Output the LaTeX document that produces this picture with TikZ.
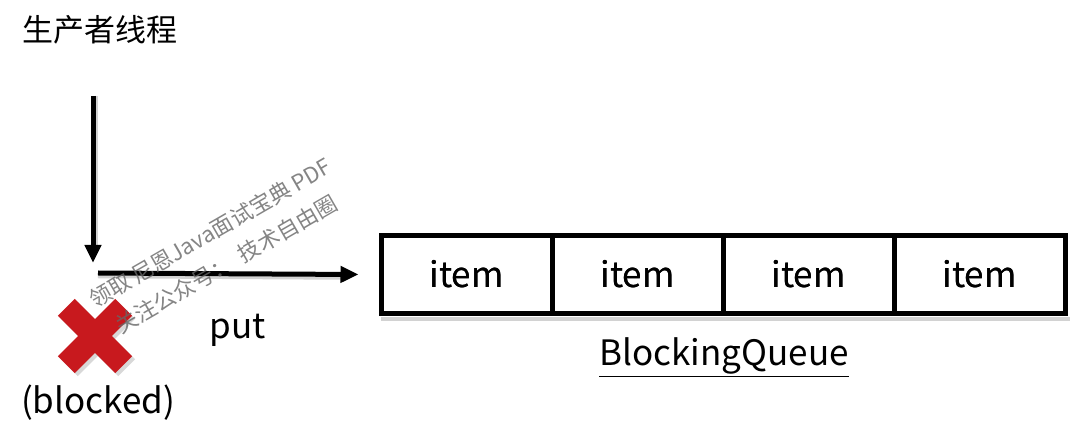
\documentclass[tikz,border=0pt]{standalone}
\usepackage{fontspec}
\setmainfont{Noto Sans CJK SC}
\usetikzlibrary{arrows.meta}
\definecolor{xred}{HTML}{C8191E}
\tikzset{
  lbl/.style={font=\fontsize{35}{40}\selectfont, inner sep=0pt},
  cell/.style={draw=black, line width=5pt, minimum width=171pt, minimum height=78pt, inner sep=0pt, font=\fontsize{35}{40}\selectfont},
  arr/.style={line width=5pt, -{Triangle[length=18pt,width=16pt]}},
  shd/.style={line width=4.5pt, black!35, opacity=0.5},
  wm/.style={font=\fontsize{22}{26}\selectfont, text=black!60, opacity=0.8, rotate=30, inner sep=0pt}
}
\begin{document}
\begin{tikzpicture}[x=1pt,y=-1pt]
\useasboundingbox (0,0) rectangle (1080,446);
% title
\node[font=\fontsize{31}{36}\selectfont, inner sep=0pt, anchor=west] (title) at (22,30) {生产者线程};
% coordinates for arrows
\coordinate (vs) at (93,96);
\coordinate (ve) at (93,263);
\coordinate (hs) at (98,273);
% queue cells
\node[cell] (c1) at (466.5,274.5) {item};
\node[cell] (c2) at (637.5,274.5) {item};
\node[cell] (c3) at (808.5,274.5) {item};
\node[cell] (c4) at (979.5,274.5) {item};
% shadows
\draw[shd] ([shift={(2.5,3)}]c1.south west) -- ([shift={(2.5,3)}]c4.south east);
\draw[shd] ([shift={(3,0)}]vs) -- ([shift={(3,-14)}]ve);
\draw[shd] ([shift={(0,3)}]hs) -- ([shift={(-34,3)}]c1.west);
% redraw cells on top
\node[cell] at (c1) {item};
\node[cell] at (c2) {item};
\node[cell] at (c3) {item};
\node[cell] at (c4) {item};
% arrows
\draw[arr] (vs) -- (ve);
\draw[arr] (hs) -- ([xshift=-20pt]c1.west);
% labels
\node[lbl] (put) at (238,330) {put};
\node[lbl] (bq) at (724,357) {\underline{BlockingQueue}};
\node[lbl] (blk) at (98,403) {(blocked)};
% red cross
\begin{scope}[shift={(95,336)}]
  \fill[black!30, opacity=0.5, shift={(3,3)}, rotate=45] (-40.5,-12) rectangle (40.5,12);
  \fill[black!30, opacity=0.5, shift={(3,3)}, rotate=-45] (-40.5,-12) rectangle (40.5,12);
  \fill[xred, rotate=45] (-40.5,-12) rectangle (40.5,12);
  \fill[xred, rotate=-45] (-40.5,-12) rectangle (40.5,12);
\end{scope}
\node[coordinate] (cross) at (95,336) {};
% watermark
\node[wm] (wm1) at (210,233) {领取 尼恩Java面试宝典 PDF};
\node[wm] (wm2) at (226,264) {关注公众号：\ \ 技术自由圈};
\end{tikzpicture}
\end{document}
